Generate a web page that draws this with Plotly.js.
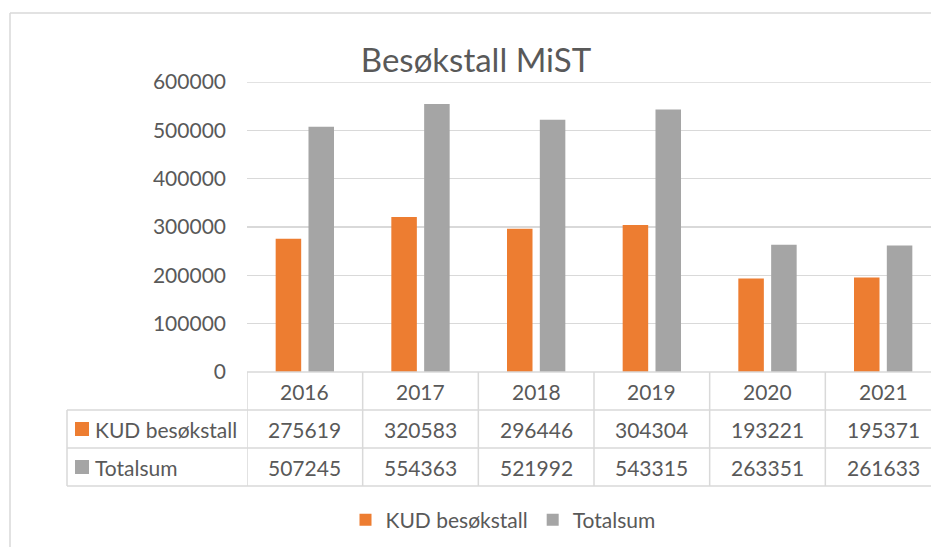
<!DOCTYPE html>
<html>
<head>
<meta charset="utf-8">
<script src="https://cdn.plot.ly/plotly-3.0.1.min.js"></script>
<style>
  html, body { margin: 0; padding: 0; overflow: hidden; background: #fff; }
  #chart { width: 950px; height: 547px; }
</style>
</head>
<body>
<div id="chart"></div>
<script>
const years = ['2016', '2017', '2018', '2019', '2020', '2021'];
const seriesNames = ['KUD besøkstall', 'Totalsum'];
const kudVisits = [275619, 320583, 296446, 304304, 193221, 195371];
const totalSum = [507245, 554363, 521992, 543315, 263351, 261633];
const yTicks = [0, 100000, 200000, 300000, 400000, 500000, 600000];

const W = 950, H = 547;
const ORANGE = '#ED7D31', GREY = '#A5A5A5', LINE = '#D9D9D9', TEXT = '#595959';
const FONT = 'Lato, "Open Sans", sans-serif';
const FS = 21;

// pixel -> paper helpers (margins are zero)
const px = x => x / W;
const py = y => 1 - y / H;

// table row geometry (pixels)
const rowTop = 372, rowY = [372, 410, 448, 486];
const labelLeft = 67, plotLeft = 247;

const traces = [
  { type: 'bar', name: seriesNames[0], x: years, y: kudVisits, marker: { color: ORANGE }, hoverinfo: 'y' },
  { type: 'bar', name: seriesNames[1], x: years, y: totalSum, marker: { color: GREY }, hoverinfo: 'y' }
];

const shapes = [];
const annotations = [];
const lineStyle = { color: LINE, width: 1.5 };

// outer chart frame (only top and left are visible in the window)
shapes.push({ type: 'line', xref: 'paper', yref: 'paper', x0: px(10), x1: px(W + 5), y0: py(13), y1: py(13), line: lineStyle });
shapes.push({ type: 'line', xref: 'paper', yref: 'paper', x0: px(10), x1: px(10), y0: py(13), y1: py(H + 5), line: lineStyle });

// top gridline (plotly skips the one on the range edge)
shapes.push({ type: 'line', xref: 'paper', yref: 'y', x0: px(plotLeft), x1: 1, y0: yTicks[yTicks.length - 1], y1: yTicks[yTicks.length - 1], line: lineStyle, layer: 'below' });

// horizontal table lines
shapes.push({ type: 'line', xref: 'paper', yref: 'paper', x0: px(plotLeft), x1: 1, y0: py(rowY[0]), y1: py(rowY[0]), line: lineStyle });
for (let r = 1; r < rowY.length; r++) {
  shapes.push({ type: 'line', xref: 'paper', yref: 'paper', x0: px(labelLeft), x1: 1, y0: py(rowY[r]), y1: py(rowY[r]), line: lineStyle });
}
// vertical table lines at category boundaries
for (let i = 0; i <= years.length; i++) {
  shapes.push({ type: 'line', xref: 'x', yref: 'paper', x0: i - 0.5, x1: i - 0.5, y0: py(rowY[0]), y1: py(rowY[3]), line: lineStyle });
}
shapes.push({ type: 'line', xref: 'paper', yref: 'paper', x0: px(labelLeft), x1: px(labelLeft), y0: py(rowY[1]), y1: py(rowY[3]), line: lineStyle });

// table cells
const tableRows = [kudVisits, totalSum];
const rowColors = [ORANGE, GREY];
years.forEach((yr, i) => {
  annotations.push({ xref: 'x', yref: 'paper', x: i, y: py((rowY[0] + rowY[1]) / 2), text: yr, showarrow: false,
    font: { family: FONT, size: FS, color: TEXT }, xanchor: 'center', yanchor: 'middle' });
  tableRows.forEach((vals, r) => {
    annotations.push({ xref: 'x', yref: 'paper', x: i, y: py((rowY[r + 1] + rowY[r + 2]) / 2), text: String(vals[i]), showarrow: false,
      font: { family: FONT, size: FS, color: TEXT }, xanchor: 'center', yanchor: 'middle' });
  });
});
seriesNames.forEach((name, r) => {
  const cy = (rowY[r + 1] + rowY[r + 2]) / 2;
  shapes.push({ type: 'rect', xref: 'paper', yref: 'paper', x0: px(75), x1: px(89), y0: py(cy - 7), y1: py(cy + 7),
    fillcolor: rowColors[r], line: { width: 0 } });
  annotations.push({ xref: 'paper', yref: 'paper', x: px(93), y: py(cy), text: name, showarrow: false,
    font: { family: FONT, size: FS, color: TEXT }, xanchor: 'left', yanchor: 'middle' });
});

const layout = {
  width: W,
  height: H,
  margin: { l: 0, r: 0, t: 0, b: 0 },
  paper_bgcolor: '#fff',
  plot_bgcolor: '#fff',
  font: { family: FONT, size: FS, color: TEXT },
  title: {
    text: 'Besøkstall MiST',
    font: { family: FONT, size: 33, color: TEXT },
    xref: 'paper', yref: 'paper', x: px(476), y: py(60), xanchor: 'center', yanchor: 'middle'
  },
  barmode: 'group',
  bargap: 0.4325,
  bargroupgap: 0.2226,
  xaxis: {
    type: 'category',
    domain: [px(plotLeft), px(941)],
    range: [-0.5, years.length - 0.5],
    showticklabels: false,
    showgrid: false,
    zeroline: false,
    showline: false,
    fixedrange: true
  },
  yaxis: {
    domain: [py(rowTop), py(82)],
    range: [0, 600000],
    tickvals: yTicks,
    ticktext: yTicks.map(String),
    showgrid: true,
    gridcolor: LINE,
    gridwidth: 1.5,
    zeroline: false,
    showline: false,
    ticks: '',
    ticklabelstandoff: 20,
    tickfont: { family: FONT, size: FS, color: TEXT },
    fixedrange: true
  },
  showlegend: true,
  legend: {
    orientation: 'h',
    x: px(503), y: py(520),
    xanchor: 'center', yanchor: 'middle',
    font: { family: FONT, size: FS, color: TEXT },
    itemwidth: 30,
    bgcolor: 'rgba(0,0,0,0)'
  },
  shapes: shapes,
  annotations: annotations
};

Plotly.newPlot('chart', traces, layout, { displayModeBar: false, staticPlot: true });
</script>
</body>
</html>
